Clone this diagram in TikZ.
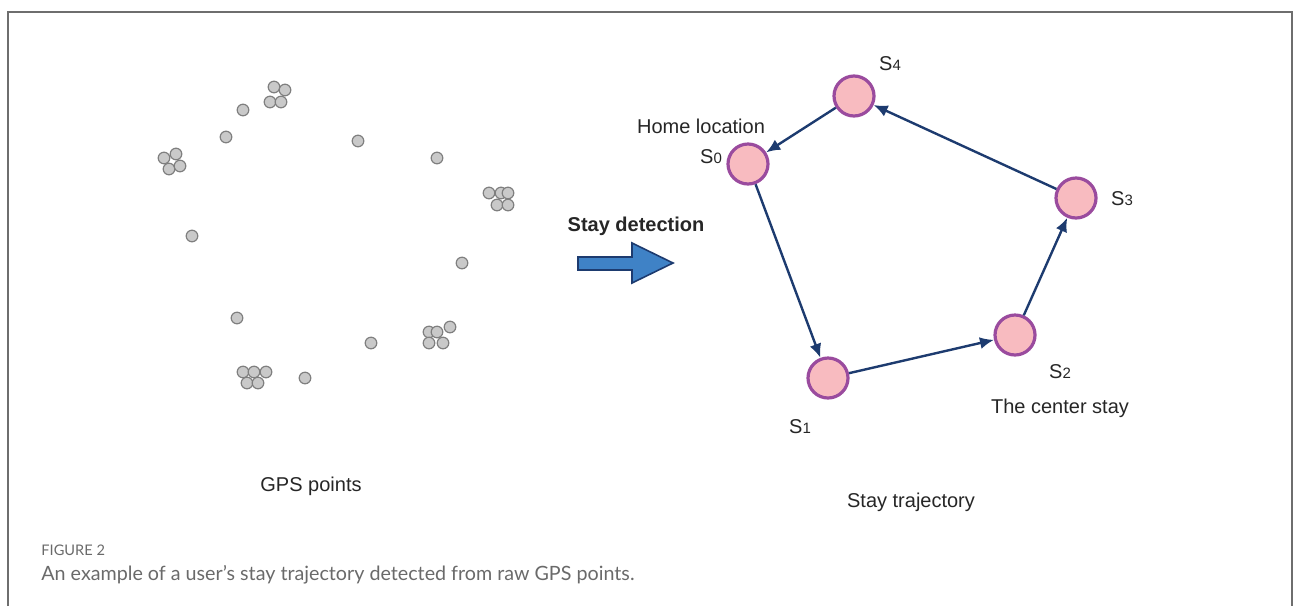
\documentclass[tikz,border=0pt]{standalone}
\usepackage{fontspec}
\setmainfont{Liberation Sans}
\newfontfamily\legende{Lato}
\usetikzlibrary{arrows.meta}
\definecolor{rose}{HTML}{F8BBC0}
\definecolor{violet}{HTML}{9A4B9E}
\definecolor{marine}{HTML}{1D3B6F}
\definecolor{bleu}{HTML}{3F82C6}
\definecolor{gris}{HTML}{C9C9C9}
\definecolor{grisbord}{HTML}{7F7F7F}
\definecolor{cadre}{HTML}{6E6E6E}
\definecolor{texte}{HTML}{6A6A6A}
\begin{document}
\begin{tikzpicture}[x=0.5pt,y=-0.5pt]
		\tikzstyle{fleche}=[-{Latex[length=7pt,width=6pt]},draw=marine,line width=1.2pt]
		\tikzstyle{sejour}=[circle,draw=violet,fill=rose,line width=1.6pt,minimum size=20pt,inner sep=0pt]
		\tikzstyle{point}=[circle,draw=grisbord,fill=gris,line width=0.6pt,minimum size=5.8pt,inner sep=0pt]
		\tikzstyle{etiquette}=[font=\fontsize{10}{12}\selectfont,text=black!85,inner sep=0pt]
		
		\def\Ind#1{{\fontsize{7.5}{9}\selectfont #1}}
		
		\useasboundingbox (0,0) rectangle (1293,606);
		% cadre
		\draw[cadre,line width=1pt] (8,606) -- (8,12) -- (1292,12) -- (1292,606);
		
		% points GPS
		\foreach \px/\py [count=\i] in {274/87,285/90,270/102,281/102,243/110,226/137,
			164/158,176/154,169/169,180/166,358/141,437/158,
			489/193,501/193,508/193,497/205,508/205,192/236,462/263,
			237/318,371/343,305/378,243/372,254/372,266/372,247/383,258/383,
			429/332,437/332,450/327,429/343,443/343}
			\node[point] (p\i) at (\px,\py) {};
		\node[etiquette] (gps) at (311,486) {GPS points};
		
		% detection
		\node[etiquette,font=\fontsize{10}{12}\selectfont\bfseries] (detection) at (636,226) {Stay detection};
		\draw[draw=marine,fill=bleu,line width=0.8pt,line join=miter]
			(578,257) -- (632,257) -- (632,243) -- (673,263) -- (632,283) -- (632,270) -- (578,270) -- cycle;
		
		% trajectoire
		\node[sejour] (S0) at (748,164) {};
		\node[sejour] (S1) at (828,378) {};
		\node[sejour] (S2) at (1015,335) {};
		\node[sejour] (S3) at (1076,198) {};
		\node[sejour] (S4) at (854,96) {};
		
		\node[etiquette] (home) at (701,126) {Home location};
		\node[etiquette] (lS0) at (711,157) {S\Ind{0}};
		\node[etiquette] (lS1) at (800,427) {S\Ind{1}};
		\node[etiquette] (lS2) at (1060,372) {S\Ind{2}};
		\node[etiquette] (centre) at (1060,408) {The center stay};
		\node[etiquette] (lS3) at (1122,199) {S\Ind{3}};
		\node[etiquette] (lS4) at (890,64) {S\Ind{4}};
		\node[etiquette] (traj) at (911,502) {Stay trajectory};
		
		\draw[fleche] (S4)--(S0);
		\draw[fleche] (S0)--(S1);
		\draw[fleche] (S1)--(S2);
		\draw[fleche] (S2)--(S3);
		\draw[fleche] (S3)--(S4);
		
		% legende
		\node[anchor=west,inner sep=0pt,text=texte,font=\legende\fontsize{7.3}{8}\selectfont] (fig) at (41,550) {FIGURE 2};
		\node[anchor=west,inner sep=0pt,text=texte,font=\legende\fontsize{9.85}{11}\selectfont] (cap) at (41,575) {An example of a user’s stay trajectory detected from raw GPS points.};
\end{tikzpicture}
\end{document}
